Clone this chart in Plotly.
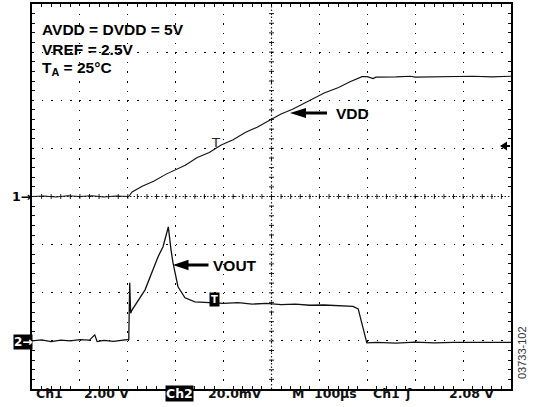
import plotly.graph_objects as go

# ---------------- data ----------------
# Channel 1: VDD (volts) vs time (µs); 2.00 V/div, ground at centre line
vdd_t = [0, 25, 50, 75, 100, 125, 150, 175, 202, 209, 230, 255, 280, 298, 320, 345, 370,
         395, 420, 445, 470, 497, 520, 545, 580, 610, 640, 664, 689, 700, 712, 718, 760,
         790, 800, 840, 880, 920, 960, 1000]
vdd_v = [0.0, 0.02, -0.02, 0.03, 0.0, 0.03, -0.02, 0.02, 0.0, 0.19, 0.43, 0.64, 0.93, 1.10,
         1.30, 1.62, 1.83, 2.14, 2.36, 2.66, 2.88, 3.18, 3.43, 3.64, 4.01, 4.30, 4.53, 4.77,
         4.98, 4.98, 4.90, 4.96, 4.97, 5.00, 4.96, 4.98, 4.97, 5.00, 4.97, 5.00]

# Channel 2: VOUT (mV) vs time (µs); 20.0 mV/div, ground 3 div below centre
vout_t = [0, 20, 40, 60, 80, 100, 120, 131, 136, 150, 170, 190, 202, 204, 206, 209, 236, 263,
          273.5, 279.7, 284.6, 290.2, 294.4, 304.8, 319.4, 340, 370, 400, 430, 460, 490, 520,
          550, 580, 610, 640, 670, 681, 689, 695, 699, 720, 760, 800, 840, 880, 920, 960, 1000]
vout_mv = [0.0, 0.4, -0.3, 0.3, 0.0, 0.5, 0.3, 2.5, -0.3, 0.2, -0.2, 0.4, 0.6, 24.1, 11.5, 12.9,
           21.2, 34.9, 39.1, 43.7, 47.4, 37.8, 32.4, 22.5, 17.9, 16.2, 15.8, 15.6, 15.9, 15.3,
           15.6, 15.1, 15.3, 14.8, 14.9, 14.5, 14.3, 13.3, 6.7, 2.5, -0.8, -0.6, -0.9, -0.5,
           -0.8, -0.6, -0.7, -0.5, -0.6]

ch1_volts_per_div = 2.0
ch2_mv_per_div = 20.0
ch1_offset_div = 0.0
ch2_offset_div = -3.0

info_lines = ["AVDD = DVDD = 5V", "VREF = 2.5V", "T<sub>A</sub> = 25°C"]
status_items = ["Ch1", "2.00 V", "Ch2", "20.0mV", "M", "100µs", "Ch1", "ʃ", "2.08 V"]

# ---------------- geometry helpers (pixel -> axis units) ----------------
W, H = 534, 407
L, R, T, B = 32, 511, 4, 389
PW, PH = R - L, B - T


def tx(px):
    return (px - L) / PW * 1000.0


def dy(py):
    return 4.0 - (py - T) / PH * 8.0


def pxp(px):
    return (px - L) / PW


def pyp(py):
    return (B - py) / PH


vdd_div = [v / ch1_volts_per_div + ch1_offset_div for v in vdd_v]
vout_div = [m / ch2_mv_per_div + ch2_offset_div for m in vout_mv]

fig = go.Figure()
fig.add_trace(go.Scatter(x=vdd_t, y=vdd_div, mode="lines",
                         line=dict(color="#111", width=1.1), hoverinfo="skip"))
fig.add_trace(go.Scatter(x=vout_t, y=vout_div, mode="lines",
                         line=dict(color="#111", width=1.3), hoverinfo="skip"))

shapes = []
# centre cross lines (dense dots) with small tick marks
shapes.append(dict(type="line", xref="x", yref="y", x0=0, x1=1000, y0=0, y1=0,
                   line=dict(color="#222", width=1.2, dash="1.5px,2px"), layer="below"))
shapes.append(dict(type="line", xref="x", yref="y", x0=500, x1=500, y0=-4, y1=4,
                   line=dict(color="#222", width=1.2, dash="1.5px,2px"), layer="below"))
for k in range(1, 50):
    shapes.append(dict(type="line", xref="x", yref="y", ysizemode="pixel", yanchor=0,
                       x0=k * 20, x1=k * 20, y0=-2.5, y1=2.5,
                       line=dict(color="#222", width=1), layer="below"))
for k in range(1, 40):
    shapes.append(dict(type="line", xref="x", yref="y", xsizemode="pixel", xanchor=500,
                       y0=-4 + k * 0.2, y1=-4 + k * 0.2, x0=-2.5, x1=2.5,
                       line=dict(color="#222", width=1), layer="below"))


def arrow(tip_px, y_px, head_len, head_h, total, shaft=3.0, direction=-1):
    # left-pointing arrow (direction=-1) whose tip is at tip_px
    s = 1 if direction == -1 else -1
    hh, sh = head_h / 2, shaft / 2
    path = (f"M0,0 L{s*head_len},{hh} L{s*head_len},{sh} L{s*total},{sh} "
            f"L{s*total},{-sh} L{s*head_len},{-sh} L{s*head_len},{-hh} Z")
    return dict(type="path", xref="x", yref="y", xsizemode="pixel", ysizemode="pixel",
                xanchor=tx(tip_px), yanchor=dy(y_px), path=path,
                fillcolor="black", line=dict(width=0))


shapes.append(arrow(290, 113, 16, 10, 37))
shapes.append(arrow(173, 265, 15.5, 10.5, 35.5))
shapes.append(arrow(500, 146, 7, 9, 10, shaft=2))

annotations = []
bold = "Liberation Sans, Arial, sans-serif"
for line, ypx in zip(info_lines, [29, 49, 68]):
    annotations.append(dict(x=tx(40), y=dy(ypx), xref="x", yref="y", text=f"<b>{line}</b>",
                            showarrow=False, xanchor="left", yanchor="middle",
                            font=dict(family=bold, size=15.5, color="black")))
annotations.append(dict(x=tx(334), y=dy(113), xref="x", yref="y", text="<b>VDD</b>",
                        showarrow=False, xanchor="left", yanchor="middle",
                        font=dict(family=bold, size=15.5, color="black")))
annotations.append(dict(x=tx(211), y=dy(265), xref="x", yref="y", text="<b>VOUT</b>",
                        showarrow=False, xanchor="left", yanchor="middle",
                        font=dict(family=bold, size=15.5, color="black")))
# trigger position markers
annotations.append(dict(x=tx(215), y=dy(142), xref="x", yref="y", text="T",
                        showarrow=False, xanchor="center", yanchor="middle",
                        font=dict(family="DejaVu Sans", size=13, color="#222")))
annotations.append(dict(x=tx(214), y=dy(299), xref="x", yref="y", text="<b>T</b>",
                        showarrow=False, xanchor="center", yanchor="middle",
                        bgcolor="black", borderpad=1,
                        font=dict(family="DejaVu Sans", size=10, color="white")))
# channel ground markers
annotations.append(dict(x=0, y=pyp(196), xref="paper", yref="paper", text="<b>1→</b>",
                        showarrow=False, xanchor="right", yanchor="middle", xshift=1,
                        font=dict(family="DejaVu Sans", size=12.5, color="black")))
annotations.append(dict(x=0, y=pyp(342), xref="paper", yref="paper", text="<b>2→</b>",
                        showarrow=False, xanchor="right", yanchor="middle", xshift=1,
                        bgcolor="black", borderpad=0,
                        font=dict(family="DejaVu Sans", size=12, color="white")))
# status line under the graticule
status_x = [35, 83, 165, 207, 291, 313, 372, 404, 448]
for txt, xp in zip(status_items, status_x):
    hl = (txt == "Ch2")
    ann = dict(x=pxp(xp), y=pyp(394), xref="paper", yref="paper",
               text=f"<b>{txt}</b>", showarrow=False, xanchor="left", yanchor="middle",
               borderpad=0,
               font=dict(family="DejaVu Sans", size=12.5, color="white" if hl else "#111"))
    if hl:
        ann["bgcolor"] = "black"
    annotations.append(ann)
annotations.append(dict(x=pxp(522), y=pyp(353), xref="paper", yref="paper", text="03733-102",
                        textangle=-90, showarrow=False, xanchor="center", yanchor="middle",
                        font=dict(family=bold, size=11, color="#333")))

axis_common = dict(showticklabels=False, ticks="", showline=True, linecolor="black",
                   linewidth=1.5, mirror="ticks", zeroline=False, gridcolor="#000",
                   gridwidth=1.3)
fig.update_layout(
    width=W, height=H,
    margin=dict(l=L, r=W - R, t=T, b=H - B, autoexpand=False),
    paper_bgcolor="white", plot_bgcolor="white",
    showlegend=False,
    xaxis=dict(range=[0, 1000], tick0=0, dtick=100, griddash="1.5px,8.125px",
               minor=dict(dtick=20, ticks="inside", ticklen=3, tickcolor="#111", showgrid=False),
               **axis_common),
    yaxis=dict(range=[-4, 4], tick0=-4, dtick=1, griddash="1.5px,8.08px",
               minor=dict(dtick=0.2, ticks="inside", ticklen=3, tickcolor="#111", showgrid=False),
               **axis_common),
    shapes=shapes,
    annotations=annotations,
)

fig.write_html("out.html", config={"displayModeBar": False},
               post_script="document.body.style.margin='0';document.body.style.overflow='hidden';")
